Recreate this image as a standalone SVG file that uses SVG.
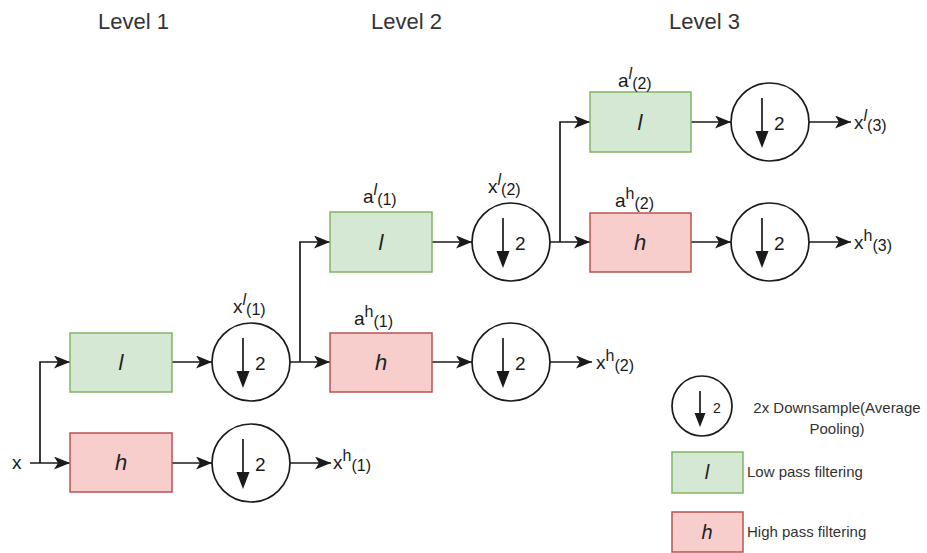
<svg xmlns="http://www.w3.org/2000/svg" width="927" height="553" viewBox="0 0 927 553">
<style>
  text { font-family: "Liberation Sans", Arial, Helvetica, sans-serif; fill: #1a1a1a; }
  .hdr { font-size: 22px; fill: #333; }
  .lbl { font-size: 19px; }
  .sup, .sub { font-size: 16px; }
  .it { font-style: italic; }
  .boxtxt { font-size: 22px; font-style: italic; text-anchor: middle; fill: #222; }
  .two { font-size: 19px; }
  .leg { font-size: 15px; fill: #333; }
  .low { fill: #d5e8d4; stroke: #82b366; stroke-width: 1.5; }
  .high { fill: #f8cecc; stroke: #b85450; stroke-width: 1.5; }
  .ds { fill: #fff; stroke: #1a1a1a; stroke-width: 1.7; }
  .conn { fill: none; stroke: #1a1a1a; stroke-width: 1.7; }
  .darr { stroke: #1a1a1a; stroke-width: 1.7; }
  .head { fill: #1a1a1a; }
</style>
<defs>
  <marker id="arr" markerUnits="userSpaceOnUse" markerWidth="17" markerHeight="14" refX="16" refY="6.5" orient="auto">
    <path d="M0,0 L16,6.5 L0,13 L4,6.5 Z" fill="#1a1a1a"/>
  </marker>
  <g id="dsym">
    <line class="darr" x1="-8" y1="-24" x2="-8" y2="12"/>
    <path class="head" d="M-14.5,9 L-1.5,9 L-8,26 Z"/>
    <text class="two" x="4" y="8">2</text>
  </g>
</defs>

<text class="hdr" x="98" y="29">Level 1</text>
<text class="hdr" x="371" y="29">Level 2</text>
<text class="hdr" x="669" y="29">Level 3</text>

<g id="connectors">
  <path class="conn" d="M30,463 L70,463" marker-end="url(#arr)"/>
  <path class="conn" d="M40,463 L40,362 L70,362" marker-end="url(#arr)"/>
  <path class="conn" d="M172,362 L212,362" marker-end="url(#arr)"/>
  <path class="conn" d="M172,463 L212,463" marker-end="url(#arr)"/>
  <path class="conn" d="M290,362 L330,362" marker-end="url(#arr)"/>
  <path class="conn" d="M300,362 L300,242 L330,242" marker-end="url(#arr)"/>
  <path class="conn" d="M290,463 L331,463" marker-end="url(#arr)"/>
  <path class="conn" d="M432,242 L472,242" marker-end="url(#arr)"/>
  <path class="conn" d="M432,362 L472,362" marker-end="url(#arr)"/>
  <path class="conn" d="M550,242 L590,242" marker-end="url(#arr)"/>
  <path class="conn" d="M560,242 L560,122 L590,122" marker-end="url(#arr)"/>
  <path class="conn" d="M550,362 L592,362" marker-end="url(#arr)"/>
  <path class="conn" d="M691,122 L731,122" marker-end="url(#arr)"/>
  <path class="conn" d="M691,242 L731,242" marker-end="url(#arr)"/>
  <path class="conn" d="M809,122 L851,122" marker-end="url(#arr)"/>
  <path class="conn" d="M809,242 L851,242" marker-end="url(#arr)"/>
</g>

<g id="input-x"><text class="lbl" x="12" y="469">x</text></g>

<g id="l1-low"><rect class="low" x="70" y="333" width="102" height="59"/><text class="boxtxt" x="121" y="370">l</text></g>
<g id="l1-high"><rect class="high" x="70" y="433" width="102" height="59"/><text class="boxtxt" x="121" y="470">h</text></g>
<g id="l1-ds-low"><circle class="ds" cx="251" cy="362" r="39"/><use href="#dsym" x="251" y="362"/></g>
<g id="l1-ds-high"><circle class="ds" cx="251" cy="463" r="39"/><use href="#dsym" x="251" y="463"/></g>

<g id="l2-low"><rect class="low" x="330" y="212" width="102" height="60"/><text class="boxtxt" x="381" y="250">l</text></g>
<g id="l2-high"><rect class="high" x="330" y="333" width="102" height="59"/><text class="boxtxt" x="381" y="370">h</text></g>
<g id="l2-ds-low"><circle class="ds" cx="511" cy="242" r="39"/><use href="#dsym" x="511" y="242"/></g>
<g id="l2-ds-high"><circle class="ds" cx="511" cy="362" r="39"/><use href="#dsym" x="511" y="362"/></g>

<g id="l3-low"><rect class="low" x="590" y="92" width="101" height="60"/><text class="boxtxt" x="640" y="130">l</text></g>
<g id="l3-high"><rect class="high" x="590" y="213" width="101" height="59"/><text class="boxtxt" x="640" y="250">h</text></g>
<g id="l3-ds-low"><circle class="ds" cx="770" cy="122" r="39"/><use href="#dsym" x="770" y="122"/></g>
<g id="l3-ds-high"><circle class="ds" cx="770" cy="242" r="39"/><use href="#dsym" x="770" y="242"/></g>

<g id="labels">
  <text class="lbl" x="233" y="313">x<tspan class="sup it" dy="-8">l</tspan><tspan class="sub" dy="10">(1)</tspan></text>
  <text class="lbl" x="363" y="203">a<tspan class="sup it" dy="-8">l</tspan><tspan class="sub" dy="10">(1)</tspan></text>
  <text class="lbl" x="354" y="325">a<tspan class="sup" dy="-8">h</tspan><tspan class="sub" dy="10">(1)</tspan></text>
  <text class="lbl" x="488" y="193">x<tspan class="sup it" dy="-8">l</tspan><tspan class="sub" dy="10">(2)</tspan></text>
  <text class="lbl" x="618" y="87">a<tspan class="sup it" dy="-8">l</tspan><tspan class="sub" dy="10">(2)</tspan></text>
  <text class="lbl" x="615" y="207">a<tspan class="sup" dy="-8">h</tspan><tspan class="sub" dy="10">(2)</tspan></text>
  <text class="lbl" x="854" y="129">x<tspan class="sup it" dy="-8">l</tspan><tspan class="sub" dy="10">(3)</tspan></text>
  <text class="lbl" x="854" y="249">x<tspan class="sup" dy="-8">h</tspan><tspan class="sub" dy="10">(3)</tspan></text>
  <text class="lbl" x="333" y="469">x<tspan class="sup" dy="-8">h</tspan><tspan class="sub" dy="10">(1)</tspan></text>
  <text class="lbl" x="596" y="369">x<tspan class="sup" dy="-8">h</tspan><tspan class="sub" dy="10">(2)</tspan></text>
</g>

<g id="legend-ds">
  <circle class="ds" cx="702" cy="406" r="30"/>
  <line class="darr" x1="700" y1="391" x2="700" y2="416"/>
  <path class="head" d="M694.5,413 L705.5,413 L700,427 Z"/>
  <text x="713" y="413" style="font-size:14px">2</text>
  <text class="leg" x="837" y="413" text-anchor="middle">2x Downsample(Average</text>
  <text class="leg" x="837" y="434" text-anchor="middle">Pooling)</text>
</g>
<g id="legend-low">
  <rect class="low" x="672" y="452" width="71" height="41"/>
  <text class="boxtxt" x="707" y="479" style="font-size:20px">l</text>
  <text class="leg" x="747" y="477">Low pass filtering</text>
</g>
<g id="legend-high">
  <rect class="high" x="672" y="512" width="71" height="40"/>
  <text class="boxtxt" x="707" y="539" style="font-size:20px">h</text>
  <text class="leg" x="747" y="537">High pass filtering</text>
</g>
</svg>
